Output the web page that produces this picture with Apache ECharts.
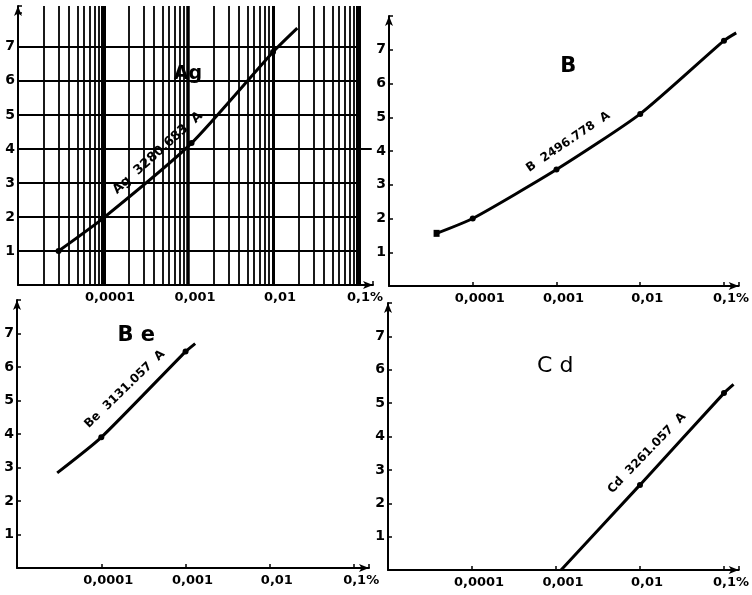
<!DOCTYPE html>
<html>
<head>
<meta charset="utf-8">
<script src="https://cdn.jsdelivr.net/npm/echarts@6/dist/echarts.min.js"></script>
<style>
  html, body { margin: 0; padding: 0; background: #fff; }
  #chart { width: 752px; height: 595px; }
</style>
</head>
<body>
<div id="chart"></div>
<script>
// Working curves: blackening (scale units) against concentration in %, log scale

const decadeTicks = [0.0001, 0.001, 0.01, 0.1];
const decadeLabels = ['0,0001', '0,001', '0,01', '0,1%'];
const yTicks = [1, 2, 3, 4, 5, 6, 7];

// Ag 3280.683 A
const agConc = [0.00003, 0.0001, 0.0011, 0.01, 0.0193];
const agValue = [1.0, 1.96, 4.17, 6.85, 7.55];
const agMeasured = [true, true, true, true, false];

// B 2496.778 A
const bConc = [0.000037, 0.0001, 0.001, 0.01, 0.1, 0.14];
const bValue = [1.56, 2.0, 3.45, 5.1, 7.27, 7.5];
const bMeasured = [true, true, true, true, true, false];

// Be 3131.057 A
const beConc = [0.00003, 0.0001, 0.001, 0.0013];
const beValue = [2.84, 3.9, 6.46, 6.7];
const beMeasured = [false, true, true, false];

// Cd 3261.057 A
const cdConc = [0.00115, 0.01, 0.1, 0.13];
const cdValue = [0, 2.55, 5.3, 5.56];
const cdMeasured = [false, true, true, false];

// Log paper behind the Ag curve
const paperDecades = [0.00001, 0.0001, 0.001, 0.01];
const paperSubdivisions = [2, 3, 4, 5, 6, 7, 8, 9];
const paperMajor = [0.0001, 0.001, 0.01, 0.1];
const paperRows = [1, 2, 3, 4, 5, 6, 7];

const FONT = "'DejaVu Sans', 'Liberation Sans', sans-serif";
const X_MIN = 0.00001, X_MAX = 0.15;
// The Ag sheet is ruled a little higher than the other three panels
const yMax = [8.2, 8, 8, 8];

const grids = [
  { left: 18,  top: 6,   width: 355, height: 279 },
  { left: 389, top: 16,  width: 350, height: 270 },
  { left: 17,  top: 300, width: 352, height: 268 },
  { left: 388, top: 303, width: 351, height: 267 }
];

function decadeLabel(v) {
  for (let i = 0; i < decadeTicks.length; i++) {
    if (Math.abs(Math.log10(v) - Math.log10(decadeTicks[i])) < 1e-6) return decadeLabels[i];
  }
  return '';
}

const axisLine = {
  show: true,
  lineStyle: { color: '#000', width: 2 },
  symbol: ['none', 'arrow'],
  symbolSize: [6, 10]
};

const xAxes = grids.map((g, i) => ({
  type: 'log', logBase: 10, gridIndex: i, min: X_MIN, max: X_MAX,
  axisLine: axisLine,
  axisTick: { show: true, inside: true, length: 4, lineStyle: { color: '#000', width: 1.5 } },
  splitLine: { show: false },
  minorTick: { show: false },
  axisLabel: {
    formatter: decadeLabel, color: '#000', fontFamily: FONT, fontWeight: 'bold',
    fontSize: 13, margin: 6, padding: [0, 0, 0, 14]
  }
}));

const yAxes = grids.map((g, i) => ({
  type: 'value', gridIndex: i, min: 0, max: yMax[i], interval: 1,
  axisLine: axisLine,
  axisTick: { show: true, inside: true, length: 4, lineStyle: { color: '#000', width: 1.5 } },
  splitLine: { show: false },
  axisLabel: {
    formatter: v => (yTicks.indexOf(v) >= 0 ? String(v) : ''),
    color: '#000', fontFamily: FONT, fontWeight: 'bold', fontSize: 14, margin: 3
  }
}));

function curve(idx, conc, value, measured, firstSymbol) {
  return {
    type: 'line', xAxisIndex: idx, yAxisIndex: idx, z: 5,
    smooth: 0.2, clip: false,
    symbol: 'circle', showAllSymbol: true,
    lineStyle: { color: '#000', width: 3 },
    itemStyle: { color: '#000', opacity: 1 },
    data: conc.map((c, i) => {
      const item = { value: [c, value[i]], symbolSize: measured[i] ? 6 : 0 };
      if (i === 0 && firstSymbol) { item.symbol = firstSymbol; item.symbolSize = [6, 7]; }
      return item;
    })
  };
}

// Vertical and horizontal rulings of the log paper
const paperTop = yMax[0];
const paperLines = [];
paperDecades.forEach(d => paperSubdivisions.forEach(k => {
  paperLines.push([{ coord: [d * k, 0], lineStyle: { width: 1.8 } }, { coord: [d * k, paperTop] }]);
}));
const majorWidth = [5, 3.5, 3, 5];
paperMajor.forEach((d, i) => {
  paperLines.push([{ coord: [d, 0], lineStyle: { width: majorWidth[i] } }, { coord: [d, paperTop] }]);
});
paperRows.forEach(r => {
  paperLines.push([{ coord: [X_MIN, r], lineStyle: { width: 2.2 } }, { coord: [r === 4 ? 0.145 : 0.1, r] }]);
});

const paperSeries = {
  type: 'line', xAxisIndex: 0, yAxisIndex: 0, z: 1, clip: false, data: [],
  markLine: {
    silent: true, animation: false, symbol: ['none', 'none'],
    label: { show: false },
    lineStyle: { color: '#000', type: 'solid', width: 1.8, opacity: 1 },
    data: paperLines
  }
};

// Element names and line designations written along the curves
const notes = [
  { idx: 0, at: [0.001, 6.2],     text: 'Ag', size: 19, weight: 'bold', rotate: 0 },
  { idx: 0, at: [0.00044, 3.88],  text: 'Ag  3280.683  A', size: 13, weight: 'bold', rotate: 42 },
  { idx: 1, at: [0.00138, 6.5],   text: 'B', size: 21, weight: 'bold', rotate: 0 },
  { idx: 1, at: [0.00138, 4.27],  text: 'B  2496.778  A', size: 12, weight: 'bold', rotate: 34 },
  { idx: 2, at: [0.00026, 6.95],  text: 'B e', size: 21, weight: 'bold', rotate: 0 },
  { idx: 2, at: [0.00019, 5.34],  text: 'Be  3131.057  A', size: 12, weight: 'bold', rotate: 44 },
  { idx: 3, at: [0.00098, 6.1],   text: 'C d', size: 22, weight: 'normal', rotate: 0 },
  { idx: 3, at: [0.0121, 3.5],    text: 'Cd  3261.057  A', size: 12, weight: 'bold', rotate: 46 }
];

const noteSeries = notes.map(n => ({
  type: 'scatter', xAxisIndex: n.idx, yAxisIndex: n.idx, z: 6, silent: true,
  symbolSize: 0,
  itemStyle: { opacity: 1 },
  data: [{ value: n.at }],
  label: {
    show: true, position: 'inside', formatter: n.text, rotate: n.rotate, opacity: 1,
    color: '#000', fontFamily: FONT, fontWeight: n.weight, fontSize: n.size
  }
}));

const chart = echarts.init(document.getElementById('chart'), null, { renderer: 'canvas' });
chart.setOption({
  backgroundColor: '#fff',
  animation: false,
  grid: grids,
  xAxis: xAxes,
  yAxis: yAxes,
  series: [
    paperSeries,
    curve(0, agConc, agValue, agMeasured),
    curve(1, bConc, bValue, bMeasured, 'rect'),
    curve(2, beConc, beValue, beMeasured),
    curve(3, cdConc, cdValue, cdMeasured)
  ].concat(noteSeries)
});
</script>
</body>
</html>
